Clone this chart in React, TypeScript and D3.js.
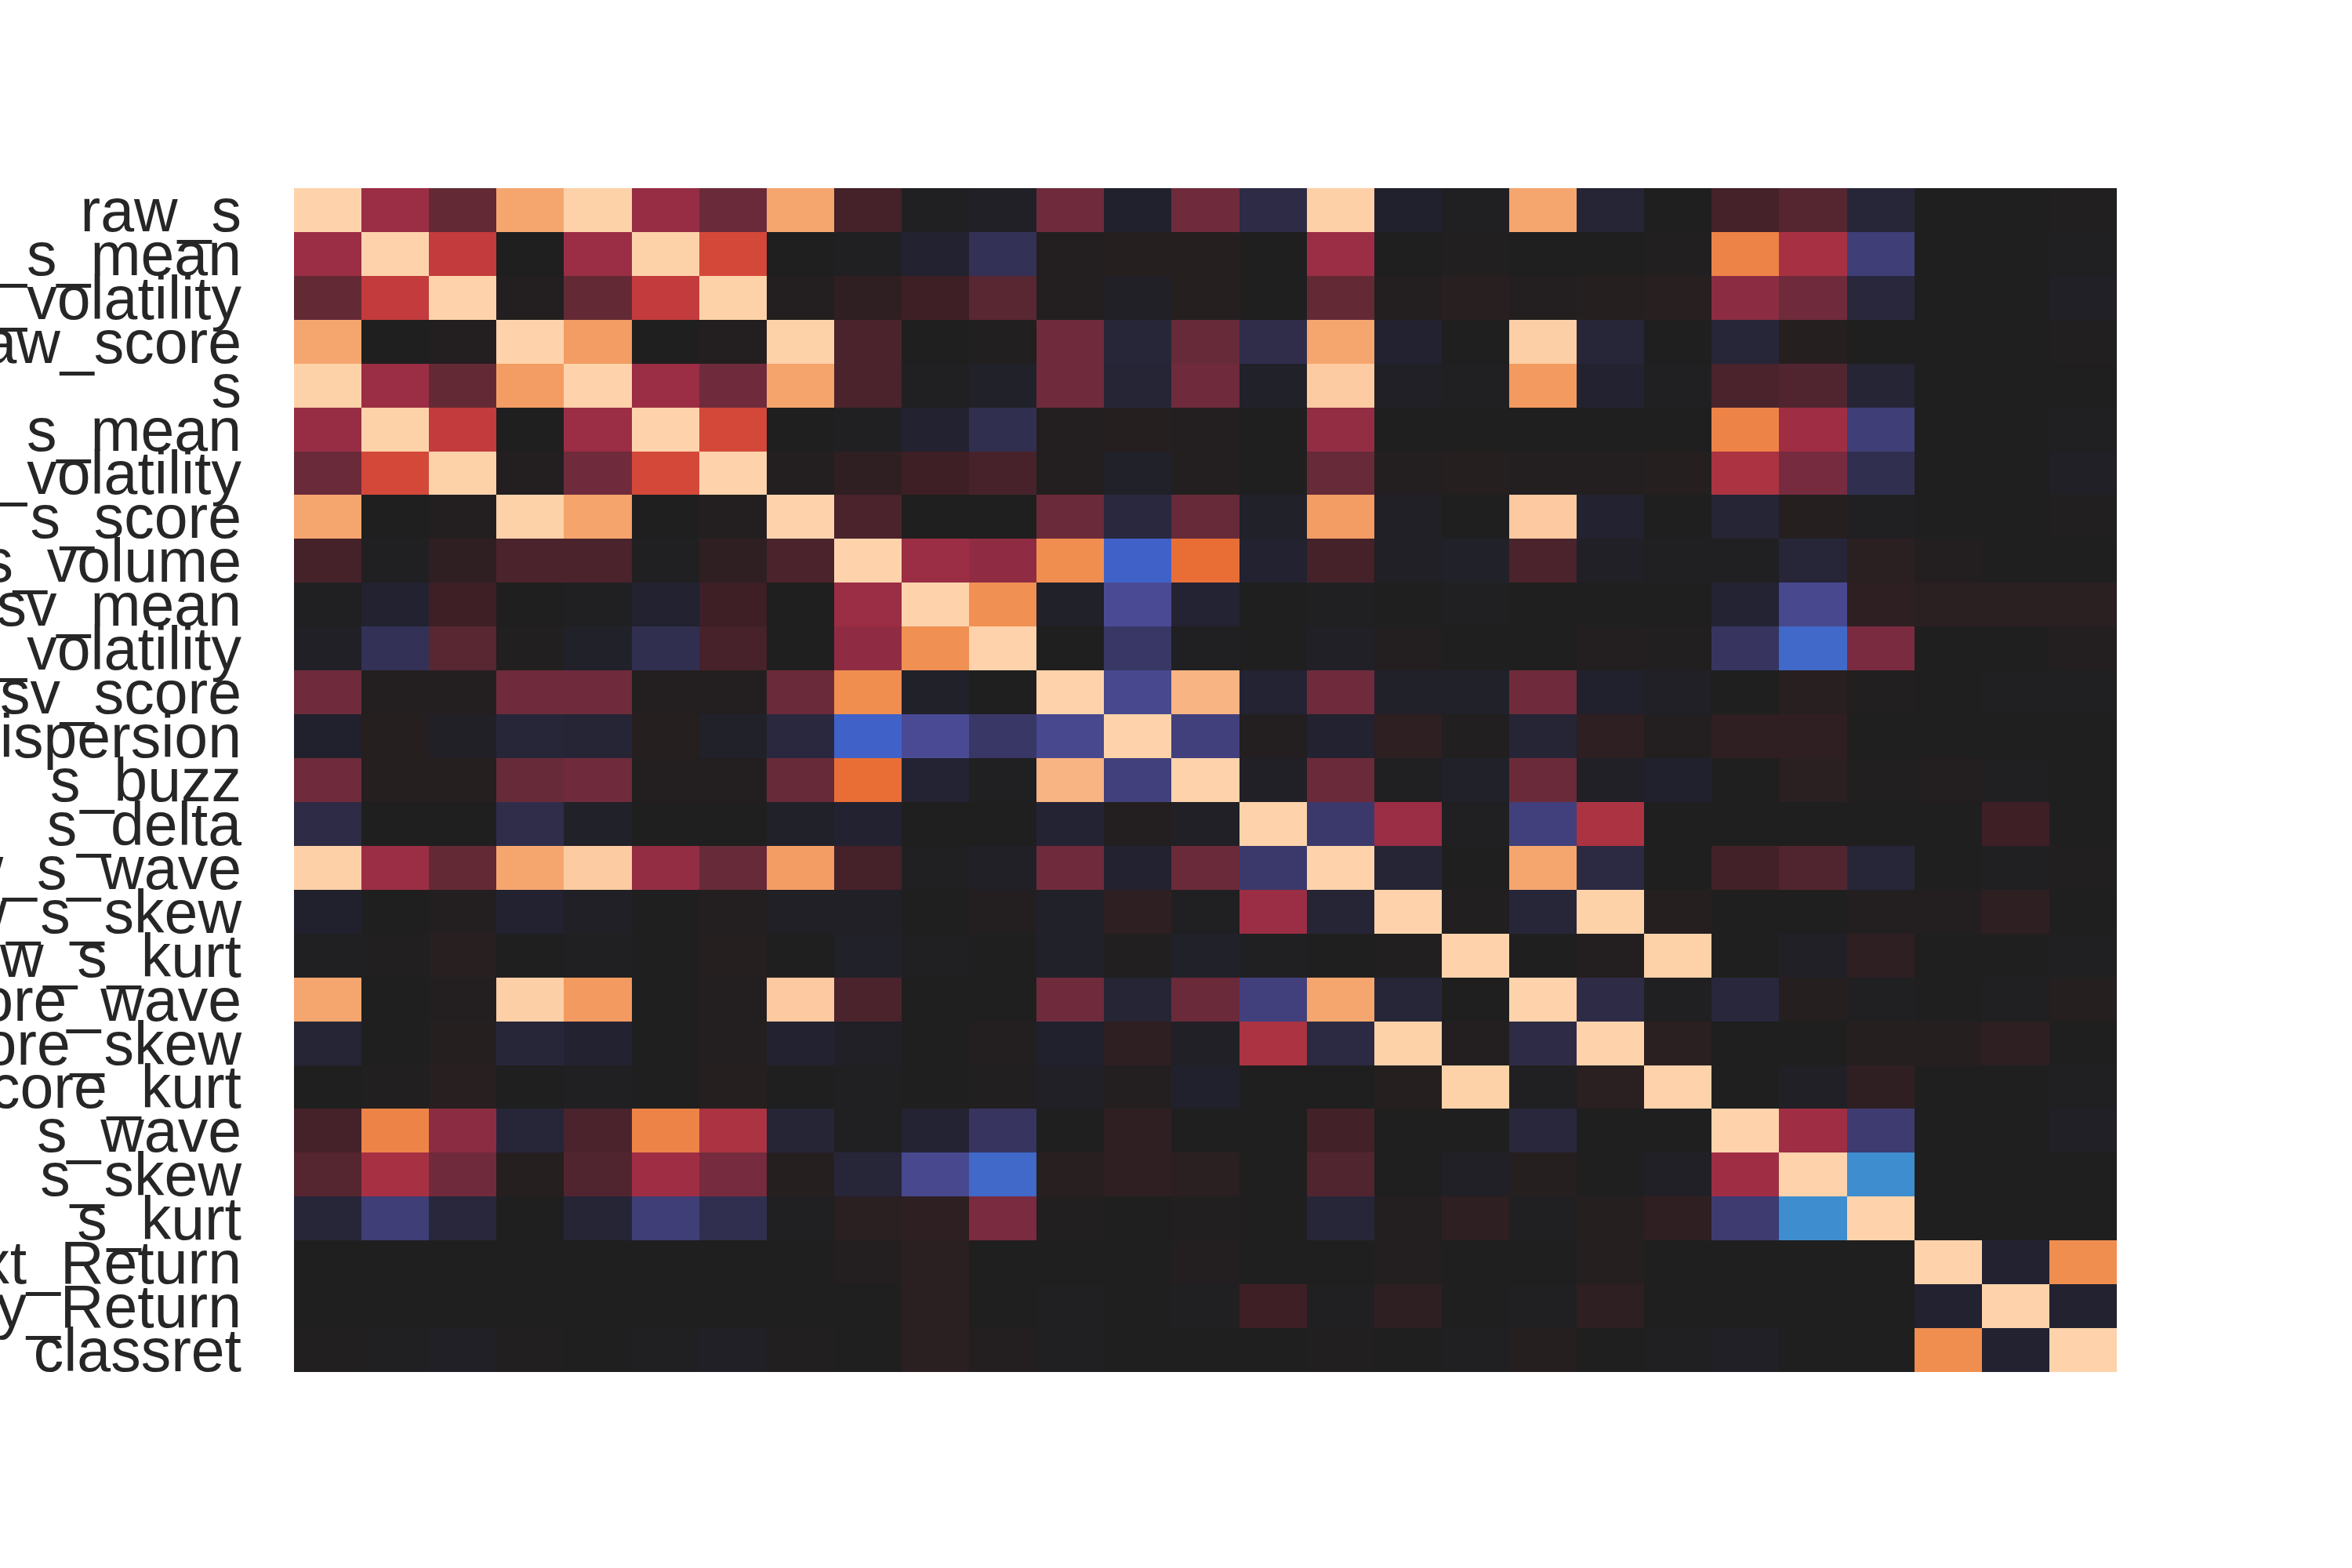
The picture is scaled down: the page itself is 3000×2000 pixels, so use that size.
import React, { useRef, useEffect } from 'react';
import * as d3 from 'd3';

// row / column names of the correlation matrix (left part is cut by the page edge)
const labels = [
  'raw_s', 'raw_s_mean', 'raw_s_volatility', 'raw_score', 's', 's_mean', 's_volatility', 's_score',
  's_volume', 'sv_mean', 'sv_volatility', 'sv_score', 's_dispersion', 's_buzz', 's_delta',
  'raw_s_wave', 'raw_s_skew', 'raw_s_kurt', 'raw_score_wave', 'raw_score_skew', 'raw_score_kurt',
  's_wave', 's_skew', 's_kurt', 'Next_Return', 'Daily_Return', 'classret'
];

// lower triangle of the correlation matrix, row i holds columns 0..i
const corrLower = [
  [1],
  [0.38, 1],
  [0.24, 0.48, 1],
  [0.82, 0, 0.02, 1],
  [0.99, 0.38, 0.24, 0.78, 1],
  [0.37, 0.99, 0.48, 0, 0.38, 1],
  [0.26, 0.55, 0.99, 0.02, 0.27, 0.55, 1],
  [0.82, 0, 0.02, 0.99, 0.81, 0, 0.02, 1],
  [0.15, -0.01, 0.08, 0.17, 0.17, -0.01, 0.08, 0.17, 1],
  [-0.01, -0.05, 0.12, 0, -0.01, -0.05, 0.12, 0, 0.38, 1],
  [-0.02, -0.15, 0.21, 0.01, -0.03, -0.14, 0.16, 0, 0.35, 0.73, 1],
  [0.27, 0.02, 0.02, 0.27, 0.27, 0.02, 0.02, 0.26, 0.72, -0.03, 0, 1],
  [-0.04, 0.03, -0.02, -0.08, -0.07, 0.03, -0.03, -0.1, -0.36, -0.26, -0.18, -0.25, 1],
  [0.27, 0.03, 0.03, 0.25, 0.27, 0.02, 0.02, 0.25, 0.66, -0.06, -0.01, 0.86, -0.22, 1],
  [-0.12, 0, 0, -0.13, -0.03, 0, 0, -0.03, -0.05, 0, 0, -0.06, 0.02, -0.02, 1],
  [0.98, 0.38, 0.24, 0.82, 0.94, 0.36, 0.25, 0.78, 0.15, -0.01, -0.02, 0.27, -0.05, 0.26, -0.19, 1],
  [-0.04, 0, 0.02, -0.05, -0.02, 0, 0.02, -0.02, -0.02, 0, 0.02, -0.03, 0.07, -0.01, 0.38, -0.07, 1],
  [-0.01, 0.01, 0.05, 0, -0.01, 0, 0.03, 0, -0.03, -0.01, 0, -0.03, 0.01, -0.03, -0.01, 0, 0.01, 1],
  [0.82, 0, 0.02, 0.97, 0.77, 0, 0.02, 0.93, 0.17, 0, 0, 0.27, -0.07, 0.26, -0.22, 0.82, -0.08, 0, 1],
  [-0.07, 0, 0.03, -0.08, -0.05, 0, 0.02, -0.05, -0.02, 0, 0.02, -0.04, 0.07, -0.02, 0.42, -0.11, 0.99, 0.02, -0.12, 1],
  [0, 0.01, 0.05, 0, -0.01, 0, 0.03, 0, -0.01, 0, 0.01, -0.02, 0.02, -0.04, 0, 0, 0.03, 0.99, -0.01, 0.06, 1],
  [0.15, 0.7, 0.34, -0.08, 0.17, 0.7, 0.42, -0.07, -0.01, -0.06, -0.17, 0, 0.08, 0, 0, 0.14, 0, 0, -0.09, 0, 0, 1],
  [0.2, 0.41, 0.27, 0.03, 0.19, 0.39, 0.29, 0.03, -0.08, -0.25, -0.38, 0.05, 0.08, 0.06, 0, 0.19, 0, -0.02, 0.03, 0, -0.02, 0.39, 1],
  [-0.08, -0.21, -0.09, 0, -0.07, -0.21, -0.14, -0.01, 0.06, 0.07, 0.3, 0.01, 0, 0.01, 0, -0.08, 0.02, 0.07, -0.01, 0.03, 0.08, -0.2, -0.48, 1],
  [0, 0, 0, 0, 0, 0, 0, 0, 0.02, 0.06, 0, 0, 0, 0.02, 0, 0, 0.02, 0, 0, 0.03, 0, 0, 0, 0, 1],
  [0, 0, 0, 0, 0, 0, 0, 0, 0, 0.06, 0, -0.01, 0, -0.01, 0.12, -0.01, 0.07, 0, -0.01, 0.07, 0, 0, 0, 0, -0.05, 1],
  [0.01, -0.01, -0.02, 0.01, 0, -0.01, -0.02, 0.01, 0, 0.06, 0.02, -0.01, 0, 0, 0, 0.01, 0, -0.01, 0.03, 0, -0.01, -0.02, 0, 0, 0.72, -0.05, 1]
];

// rough copy of seaborn's "icefire" colormap
const iceFireStops = [-1, -0.8, -0.6, -0.48, -0.36, -0.26, -0.2, -0.12, -0.05, 0, 0.06, 0.12, 0.17, 0.24, 0.3, 0.38, 0.48, 0.55, 0.66, 0.72, 0.82, 0.92, 1];
const iceFireColors = ['#bde7db', '#80c9d8', '#4aa5d8', '#3e8ecf', '#4062c8', '#4a4a94', '#3d3b70', '#2d2b45', '#222230', '#1f1f1f',
  '#2a1f21', '#3d1f25', '#4a232c', '#632a36', '#7a2b40', '#9b2d45', '#c33b3d', '#d4483a', '#e86e35', '#f08e50', '#f5a66f', '#fcc89e', '#fed3ab'];

export default function App() {
  const ref = useRef<SVGSVGElement>(null);

  useEffect(() => {
    const svg = d3.select(ref.current);
    svg.selectAll('*').remove();

    const left = 375, right = 2700, top = 240, bottom = 1750;

    const cells: { row: string; col: string; value: number }[] = [];
    labels.forEach((r, i) => {
      labels.forEach((c, j) => {
        const v = j <= i ? corrLower[i][j] : corrLower[j][i];
        cells.push({ row: r, col: c, value: v });
      });
    });

    const x = d3.scaleBand().domain(labels).range([left, right]);
    const y = d3.scaleBand().domain(labels).range([top, bottom]);
    const color = d3.scaleLinear<string>().domain(iceFireStops).range(iceFireColors).clamp(true);

    svg.append('g')
      .selectAll('rect')
      .data(cells)
      .join('rect')
      .attr('x', d => Math.round(x(d.col)!))
      .attr('y', d => Math.round(y(d.row)!))
      .attr('width', d => Math.round(x(d.col)! + x.bandwidth()) - Math.round(x(d.col)!))
      .attr('height', d => Math.round(y(d.row)! + y.bandwidth()) - Math.round(y(d.row)!))
      .attr('fill', d => color(d.value))
      .attr('shape-rendering', 'crispEdges');

    // y tick labels, no tick marks
    const yAxis = d3.axisLeft(y).tickSize(0).tickPadding(67);
    const g = svg.append('g').attr('transform', `translate(${left},0)`).call(yAxis);
    g.select('.domain').remove();
    g.attr('font-size', 77).attr('font-family', '"Liberation Sans", Arial, sans-serif');
    g.selectAll('text').attr('fill', '#262626').attr('dy', '0.35em');
  }, []);

  return (
    <svg ref={ref} width={3000} height={2000} viewBox="0 0 3000 2000"
      style={{ position: 'absolute', left: 0, top: 0, background: '#ffffff' }} />
  );
}
